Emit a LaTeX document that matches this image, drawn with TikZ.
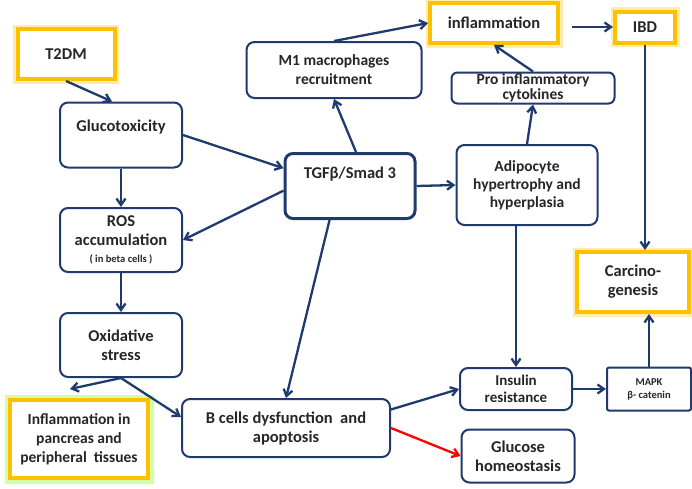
\documentclass[tikz,border=0pt]{standalone}
\usepackage{fontspec}
\setmainfont{Carlito}
\usepackage{tikz}
\usetikzlibrary{arrows.meta,calc}

\definecolor{navy}{HTML}{1F3A6E}
\definecolor{gold}{HTML}{FFC000}

\begin{document}
\begin{tikzpicture}[
  x=1pt, y=-1pt,
  box/.style={rectangle, rounded corners=8pt, draw=navy, line width=2pt, fill=white,
              align=center, inner sep=2pt, text=black!85,
              font=\fontsize{16.5}{19}\selectfont\bfseries},
  hibox/.style={rectangle, draw=gold, line width=4pt, fill=white, align=center,
                inner sep=2pt, text=black!85, font=\fontsize{16.5}{19}\selectfont\bfseries,
                preaction={draw=gold!30, line width=9pt}},
  arrow/.style={-{Straight Barb[length=6.5pt, width=9pt]}, line width=2.3pt, draw=navy}
]
\useasboundingbox (0,0) rectangle (692,488);

% Left column
\node[hibox, minimum width=97, minimum height=50] (t2dm) at (66,54) {T2DM};
\node[box, minimum width=122, minimum height=65, text depth=18pt] (gluco) at (121,135) {Glucotoxicity};
\node[box, minimum width=122, minimum height=64] (ros) at (121,240)
  {ROS\\accumulation\\[-2pt]{\fontsize{10.5}{12}\selectfont ( in beta cells )}};
\node[box, minimum width=122, minimum height=64] (oxi) at (121,345) {Oxidative\\stress};
\node[hibox, minimum width=138, minimum height=78, font=\fontsize{15.5}{19}\selectfont\bfseries,
      preaction={draw=green!50!yellow!35, line width=11pt}] (pancr) at (79,439)
  {Inflammation in\\pancreas and\\peripheral\ \ tissues};

% Middle
\node[box, minimum width=130, minimum height=65, line width=3pt, text depth=26pt] (tgf) at (350,186) {TGFβ/Smad 3};
\node[box, minimum width=175, minimum height=56, font=\fontsize{15.5}{19}\selectfont\bfseries] (m1) at (334,70)
  {M1 macrophages\\recruitment};
\node[box, minimum width=208, minimum height=58] (bcells) at (286,428)
  {B cells dysfunction\ \ and\\apoptosis};

% Right
\node[hibox, minimum width=128, minimum height=40] (infl) at (494,23) {inflammation};
\node[hibox, minimum width=60, minimum height=31] (ibd) at (645,27) {IBD};
\node[box, minimum width=163, minimum height=31, inner sep=0pt, rounded corners=6pt,
      font=\fontsize{15.5}{15}\selectfont\bfseries] (cyto) at (533,88)
  {Pro inflammatory\\cytokines};
\node[box, minimum width=141, minimum height=80, font=\fontsize{15.5}{18}\selectfont\bfseries] (adipo) at (527,185)
  {Adipocyte\\hypertrophy and\\hyperplasia};
\node[hibox, minimum width=112, minimum height=60] (carc) at (633,282) {Carcino-\\genesis};
\node[box, minimum width=112, minimum height=42, font=\fontsize{15}{17}\selectfont\bfseries] (insulin) at (516,389)
  {Insulin\\resistance};
\node[box, minimum width=84, minimum height=43, rounded corners=2pt,
      font=\fontsize{10.5}{13}\selectfont\bfseries] (mapk) at (649,389) {MAPK\\β- catenin};
\node[box, minimum width=113, minimum height=53] (glucose) at (518,456) {Glucose\\homeostasis};

% Free ends
\coordinate (pancrin) at (70,389);
\coordinate (infend) at (572,27);

% Arrows
\draw[arrow] (t2dm.south) -- (gluco.105);
\draw[arrow] (gluco.east) -- (tgf.165);
\draw[arrow] (gluco.south) -- (ros.north);
\draw[arrow] (tgf.184) -- (ros.east);
\draw[arrow] (ros.south) -- (oxi.north);
\draw[arrow] (oxi.south) -- (pancrin);
\draw[arrow] (oxi.south) -- (bcells.174);
\draw[arrow] (tgf.80) -- (m1.south);
\draw[arrow] (m1.north) -- (infl.west);
\draw[arrow] (tgf.239) -- (bcells.north);
\draw[arrow] (tgf.east) -- (adipo.west);
\draw[arrow] (adipo.north) -- (cyto.south);
\draw[arrow] (cyto.north) -- (infl.south);
\draw[arrow] (infend) -- (ibd.west);
\draw[arrow] (ibd.south) -- (ibd.south |- carc.north);
\draw[arrow] (insulin.north |- adipo.south) -- (insulin.north);
\draw[arrow] (bcells.10) -- (insulin.west);
\draw[arrow, draw=red] (bcells.east) -- (glucose.west);
\draw[arrow] (insulin.east) -- (mapk.west);
\draw[arrow] (mapk.north) -- (mapk.north |- carc.south);

\end{tikzpicture}
\end{document}
